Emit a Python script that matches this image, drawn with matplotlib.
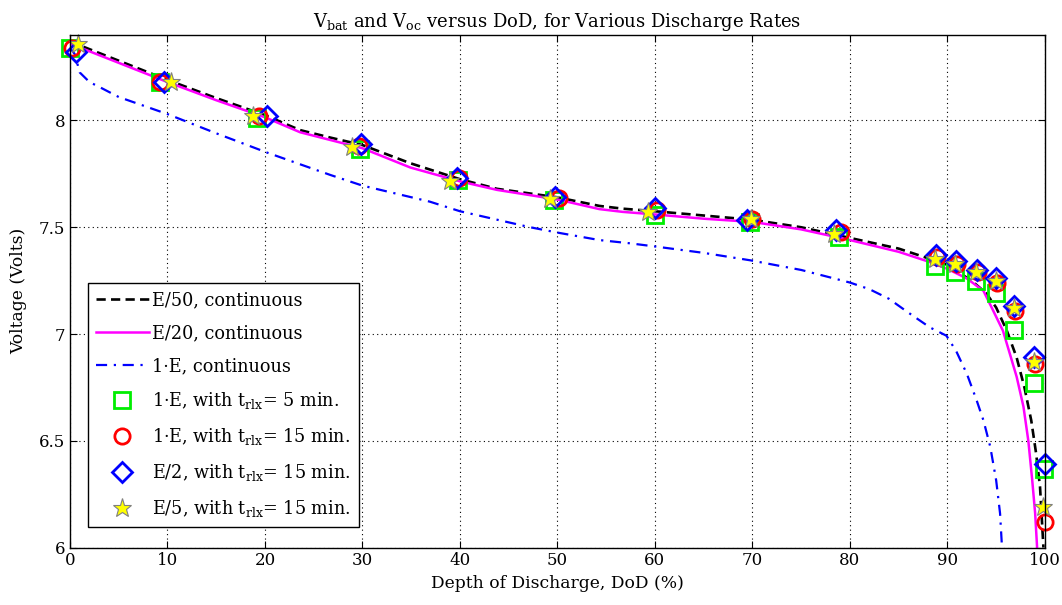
import matplotlib
matplotlib.use("Agg")
import matplotlib.pyplot as plt

plt.rcParams['font.family'] = ['DejaVu Serif']
plt.rcParams['mathtext.default'] = 'regular'

# continuous discharge curves (DoD %, volts)
e50_x = [0, 5, 10, 15, 20, 23.6, 26.7, 30, 34.9, 40, 43.8, 50, 54.3, 56.7, 60, 65, 70, 75, 80, 85, 88,
         89.9, 91.3, 92.6, 94.0, 95.0, 96.1, 97.1, 97.9, 98.6, 99.1, 99.5, 99.85]
e50_y = [8.37, 8.28, 8.19, 8.105, 8.025, 7.955, 7.92, 7.885, 7.80, 7.725, 7.68, 7.64, 7.60, 7.587, 7.575,
         7.555, 7.535, 7.50, 7.45, 7.40, 7.355, 7.325, 7.285, 7.245, 7.19, 7.124, 7.015, 6.89, 6.75, 6.595,
         6.44, 6.284, 6.0]

e20_x = [0, 5, 10, 15, 20, 23.6, 30, 34.9, 40, 43.8, 50, 54.3, 56.7, 60, 65, 70, 75, 80, 85, 88, 90,
         92, 93.7, 94.7, 95.7, 96.4, 97.1, 97.8, 98.3, 98.7, 99.0, 99.2]
e20_y = [8.36, 8.27, 8.18, 8.095, 8.015, 7.945, 7.87, 7.78, 7.715, 7.675, 7.63, 7.585, 7.572, 7.56, 7.54,
         7.525, 7.49, 7.44, 7.385, 7.34, 7.305, 7.26, 7.202, 7.109, 7.015, 6.908, 6.80, 6.66, 6.50, 6.315,
         6.16, 6.0]

e1_x = [0, 0.5, 1, 2, 3.1, 5, 10, 15, 20.2, 23.6, 26.7, 30, 36.9, 40, 47.2, 50, 54.3, 57.4, 60, 65, 69.8,
        75, 78.4, 80, 82, 84, 86, 88.2, 89.9, 90.9, 92.0, 93.0, 93.7, 94.4, 95.0, 95.4, 95.6]
e1_y = [8.34, 8.31, 8.225, 8.18, 8.155, 8.11, 8.03, 7.94, 7.85, 7.795, 7.745, 7.695, 7.62, 7.575, 7.50,
        7.475, 7.44, 7.425, 7.41, 7.38, 7.345, 7.30, 7.26, 7.241, 7.21, 7.165, 7.10, 7.031, 6.992, 6.92,
        6.813, 6.689, 6.595, 6.471, 6.315, 6.16, 6.0]

# relaxed open circuit points
sq_x = [0, 9.2, 19.2, 29.7, 39.8, 49.6, 60.0, 69.8, 78.9, 88.7, 90.8, 92.9, 95.0, 96.8, 98.9, 99.9]
sq_y = [8.34, 8.18, 8.01, 7.866, 7.72, 7.627, 7.557, 7.525, 7.455, 7.32, 7.29, 7.25, 7.19, 7.02, 6.77, 6.37]

ci_x = [0.2, 9.2, 19.4, 29.6, 39.9, 50.2, 60.2, 70.0, 79.1, 88.9, 91.0, 93.1, 95.1, 96.9, 99.0, 100]
ci_y = [8.34, 8.18, 8.02, 7.88, 7.73, 7.635, 7.58, 7.54, 7.48, 7.36, 7.33, 7.29, 7.24, 7.11, 6.86, 6.12]

di_x = [0.6, 9.6, 20.2, 29.8, 39.7, 49.8, 60.0, 69.4, 78.6, 88.8, 90.9, 93.0, 95.0, 96.8, 98.9, 100]
di_y = [8.32, 8.18, 8.02, 7.89, 7.73, 7.64, 7.588, 7.535, 7.485, 7.37, 7.34, 7.30, 7.26, 7.13, 6.89, 6.39]

st_x = [0.8, 10.4, 18.8, 28.9, 39.0, 49.2, 59.3, 69.9, 78.4, 88.7, 90.8, 92.9, 95.0, 96.8, 98.9, 99.8]
st_y = [8.36, 8.18, 8.02, 7.877, 7.717, 7.63, 7.572, 7.54, 7.47, 7.35, 7.33, 7.29, 7.25, 7.12, 6.87, 6.19]

fig = plt.figure(figsize=(10.62, 6.05), dpi=100)
ax = fig.add_axes([0.0659, 0.095, 0.918, 0.847])

ax.plot(e50_x, e50_y, color='black', ls=(0, (3.5, 2)), lw=1.9, label='E/50, continuous')
ax.plot(e20_x, e20_y, color='#ff00ff', ls='-', lw=1.8, label='E/20, continuous')
ax.plot(e1_x, e1_y, color='blue', ls=(0, (5, 3, 1, 3)), lw=1.6, label='1·E, continuous')

ax.plot(sq_x, sq_y, ls='none', marker='s', ms=12, mfc='none', mec='#00ee00', mew=2, clip_on=False,
        label='1·E, with t$_{rlx}$= 5 min.')
ax.plot(ci_x, ci_y, ls='none', marker='o', ms=11, mfc='none', mec='red', mew=2, clip_on=False,
        label='1·E, with t$_{rlx}$= 15 min.')
ax.plot(di_x, di_y, ls='none', marker='D', ms=10, mfc='none', mec='blue', mew=2, clip_on=False,
        label='E/2, with t$_{rlx}$= 15 min.')
ax.plot(st_x, st_y, ls='none', marker='*', ms=14, mfc='yellow', mec='gray', mew=0.8, clip_on=False,
        label='E/5, with t$_{rlx}$= 15 min.')

ax.set_xlim(0, 100)
ax.set_ylim(6, 8.4)
ax.set_xticks(range(0, 101, 10))
ax.set_yticks([6, 6.5, 7, 7.5, 8])
ax.set_yticklabels(['6', '6.5', '7', '7.5', '8'])
ax.grid(True, color='black', ls=(0, (1, 3)), lw=0.8)
ax.tick_params(direction='in', top=True, right=True, labelsize=12, length=5)
for s in ax.spines.values():
    s.set_linewidth(1.0)

ax.set_title('V$_{bat}$ and V$_{oc}$ versus DoD, for Various Discharge Rates', fontsize=13)
ax.set_xlabel('Depth of Discharge, DoD (%)', fontsize=12.3)
ax.set_ylabel('Voltage (Volts)', fontsize=12.3, labelpad=8)

leg = ax.legend(loc='upper left', bbox_to_anchor=(0.0185, 0.516), fontsize=12.7, handlelength=3.0,
                frameon=True, fancybox=False, edgecolor='black', framealpha=1, borderpad=0.45,
                labelspacing=0.85, handletextpad=0.2, borderaxespad=0)
leg.get_frame().set_linewidth(1.0)

fig.savefig('out.png', dpi=100)
